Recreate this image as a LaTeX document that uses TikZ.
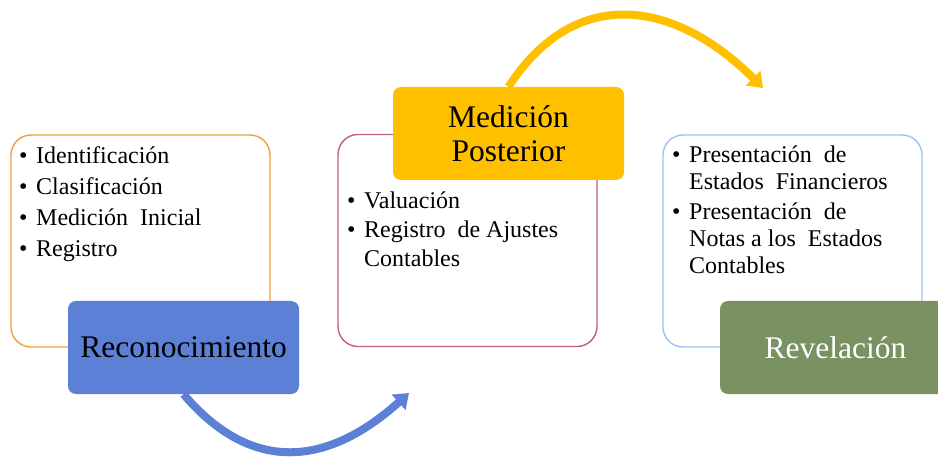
\documentclass[tikz,border=0pt]{standalone}
\usepackage{fontspec}
\setmainfont{Liberation Serif}
\usetikzlibrary{arrows.meta,backgrounds}
\definecolor{orangeline}{HTML}{F0A03C}
\definecolor{mauveline}{HTML}{BF6080}
\definecolor{skyline}{HTML}{9DC3EE}
\definecolor{bluefill}{HTML}{5B80D6}
\definecolor{yellowfill}{HTML}{FFC000}
\definecolor{greenfill}{HTML}{7A9162}
\newcommand\bul{\makebox[17pt][l]{\textbullet}}
\begin{document}
\begin{tikzpicture}[x=1pt,y=-1pt,
  outlinebox/.style={draw, line width=1.4pt, rounded corners=20pt, fill=white,
    minimum width=259pt, minimum height=212pt, inner sep=0pt},
  titlebox/.style={rounded corners=8pt, minimum width=231pt, minimum height=93pt,
    inner sep=0pt, font=\fontsize{31.5}{34}\selectfont, align=center},
  bullets/.style={anchor=base west, inner sep=0pt},
  flowarrow/.style={line width=8pt, -{Triangle[length=14pt,width=20pt]}}
]
\useasboundingbox (0,0) rectangle (938,457);
% outline boxes
\node[outlinebox, draw=orangeline] (box1) at (140.5,241) {};
\node[outlinebox, draw=mauveline] (box2) at (467.5,240.5) {};
\node[outlinebox, draw=skyline] (box3) at (792.5,241) {};
% bullet lists
\node[bullets, font=\fontsize{24}{31}\selectfont] (list1) at (19,164)
  {\begin{tabular}[t]{@{}l@{}l@{}}
   \bul & Identificación\\
   \bul & Clasificación\\
   \bul & Medición\ \ Inicial\\
   \bul & Registro
   \end{tabular}};
\node[bullets, font=\fontsize{24}{29}\selectfont] (list2) at (347,209)
  {\begin{tabular}[t]{@{}l@{}l@{}}
   \bul & Valuación\\
   \bul & Registro\ \ de Ajustes\\
        & Contables
   \end{tabular}};
\node[bullets, font=\fontsize{24}{27}\selectfont] (list3) at (672,163)
  {\begin{tabular}[t]{@{}l@{}l@{}}
   \bul & Presentación\ \ de\\
        & Estados\ \ Financieros\\[2.5pt]
   \bul & Presentación\ \ de\\
        & Notas a los\ \ Estados\\
        & Contables
   \end{tabular}};
% title boxes
\node[titlebox, fill=bluefill] (reco) at (183.5,347.5) {Reconocimiento};
\node[titlebox, fill=yellowfill] (medpost) at (508.5,133.5) {Medición\\Posterior};
\node[titlebox, fill=greenfill, text=white] (revel) at (835.5,347.5) {Revelación};
% arrow ends
\coordinate (end1) at (409,393);
\coordinate (end2) at (763,88);
\begin{scope}[on background layer]
\draw[flowarrow, draw=bluefill] (reco.south) .. controls (252.8,475.6) and (328.9,465.1) .. (end1);
\draw[flowarrow, draw=yellowfill] (medpost.north) .. controls (575.9,-16.8) and (675.5,0.5) .. (end2);
\end{scope}
\end{tikzpicture}
\end{document}
